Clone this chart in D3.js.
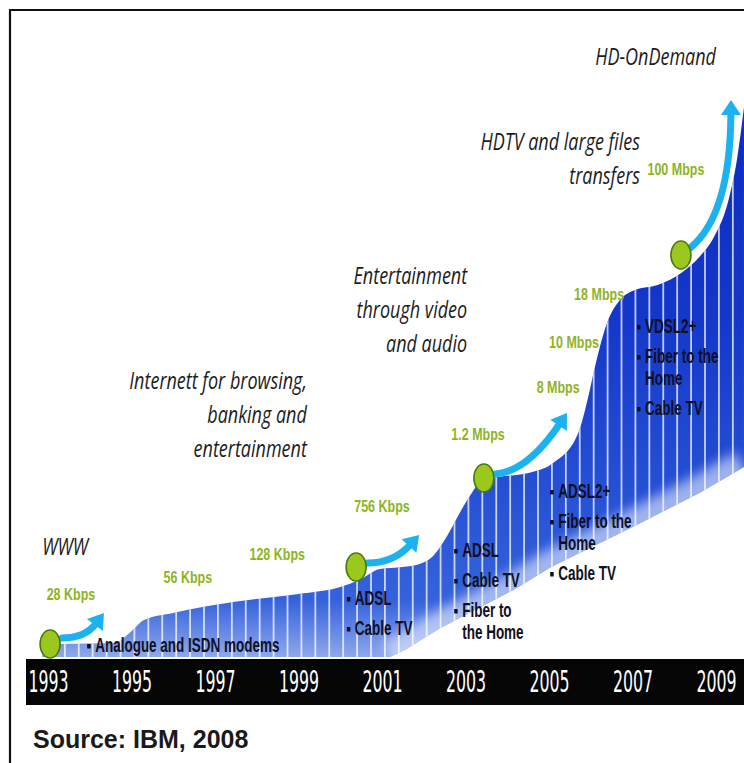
<!DOCTYPE html>
<html>
<head>
<meta charset="utf-8">
<script src="https://cdn.jsdelivr.net/npm/d3@7"></script>
<style>
  html, body { margin: 0; padding: 0; background: #fff; }
  svg { display: block; }
</style>
</head>
<body>
<svg id="chart" width="744" height="763"></svg>
<script>
// Evolution of broadband access speeds, 1993–2009

const tickYears = [1993, 1995, 1997, 1999, 2001, 2003, 2005, 2007, 2009];

// Upper edge of the bandwidth band (year, relative level)
const edgeYears  = [1992.86, 1993.3, 1994.6, 1994.95, 1995.3, 1996.0, 1996.7, 1997.8, 1999.0, 2000.0,
                    2000.5, 2000.95, 2001.5, 2001.9, 2002.2, 2002.6, 2002.9, 2003.15, 2003.4, 2003.8,
                    2004.6, 2005.1, 2005.7, 2005.95, 2006.1, 2006.39, 2006.7, 2007.06, 2007.6, 2008.2,
                    2008.6, 2008.95, 2009.3, 2009.5, 2009.67];
const edgeLevels = [12, 13, 14, 24, 37, 44, 50, 57, 63, 70,
                    78, 88, 90, 93, 100, 124, 147, 164, 177, 180,
                    185, 194, 224, 262, 290, 334, 357, 367, 372, 385,
                    400, 420, 457, 497, 550];

// Lower edge of the band (rises as older technologies fall away)
const lowerYears  = [1992.86, 2001.2, 2001.55, 2002.4, 2004.15, 2005.05, 2007.0, 2008.6, 2009.67];
const lowerLevels = [0, 0, 7, 29, 67, 90, 130, 164, 190];

// Milestone markers with their arrows
const hopYears  = [1993.05, 2000.38, 2003.44, 2008.16];
const hopLevels = [13, 90, 179, 402];
const arrowFromYears  = [1993.34, 2000.66, 2003.73, 2008.38];
const arrowFromLevels = [19, 94, 183, 409];
const arrowToYears    = [1994.34, 2001.89, 2005.43, 2009.36];
const arrowToLevels   = [44, 122, 244, 557];

// Typical speeds
const speedLabels = ["28 Kbps", "56 Kbps", "128 Kbps", "756 Kbps", "1.2 Mbps", "8 Mbps", "10 Mbps", "18 Mbps", "100 Mbps"];
const speedYears  = [1993.55, 1996.35, 1998.49, 2001.0, 2003.3, 2005.22, 2005.6, 2006.2, 2008.04];
const speedLevels = [57, 74, 97, 145, 217, 264, 309, 357, 482];

// Usage eras
const eraTitles = [
  ["WWW"],
  ["Internett for browsing,", "banking and", "entertainment"],
  ["Entertainment", "through video", "and audio"],
  ["HDTV and large files", "transfers"],
  ["HD-OnDemand"]
];
const eraYears  = [1992.86, 1999.2, 2003.04, 2007.18, 2009.0];
const eraLevels = [102, 268, 373, 507, 592];

// Access technologies
const techItems = [
  [["Analogue and ISDN modems"]],
  [["ADSL"], ["Cable TV"]],
  [["ADSL"], ["Cable TV"], ["Fiber to", "the Home"]],
  [["ADSL2+"], ["Fiber to the", "Home"], ["Cable TV"]],
  [["VDSL2+"], ["Fiber to the", "Home"], ["Cable TV"]]
];
const techYears  = [1994.13, 2000.35, 2002.92, 2005.22, 2007.3];
const techLevels = [5, 52, 100, 159, 324];

const sourceNote = "Source: IBM, 2008";

// ---------------------------------------------------------------------------
const svg = d3.select("#chart");
const x = d3.scaleLinear().domain([1993, 2009]).range([48, 716]);
const y = d3.scaleLinear().domain([0, 600]).range([657, 57]);

const defs = svg.append("defs");

const grad = defs.append("linearGradient")
  .attr("id", "bandFill")
  .attr("gradientUnits", "userSpaceOnUse")
  .attr("x1", 0).attr("x2", 0)
  .attr("y1", y(567)).attr("y2", y(0));
[[0, "#0c2bbf"], [0.4, "#1437ca"], [0.7, "#2550d4"], [0.9, "#3562dc"], [1, "#8ea8ec"]]
  .forEach(([o, c]) => grad.append("stop").attr("offset", o).attr("stop-color", c));

defs.append("filter").attr("id", "soft")
  .attr("x", "-20%").attr("y", "-20%").attr("width", "140%").attr("height", "140%")
  .append("feGaussianBlur").attr("stdDeviation", 6);

// Band outline: smooth upper edge, straight-ish lower edge
const upperPts = edgeYears.map((d, i) => [x(d), y(edgeLevels[i])]);
const lowerPts = lowerYears.map((d, i) => [x(d), y(lowerLevels[i])]);
const upperLine = d3.line().curve(d3.curveMonotoneX);
const lowerLine = d3.line().curve(d3.curveLinear);
const bandPath = upperLine(upperPts) + "L" +
  lowerLine(lowerPts.slice().reverse()).slice(1) + "Z";

defs.append("clipPath").attr("id", "bandClip")
  .append("path").attr("d", bandPath);

// Frame
svg.append("path")
  .attr("d", "M10,763V10H744")
  .attr("fill", "none")
  .attr("stroke", "#111")
  .attr("stroke-width", 2.2);

// Band
svg.append("path")
  .attr("d", bandPath)
  .attr("fill", "url(#bandFill)");

const bandDeco = svg.append("g").attr("clip-path", "url(#bandClip)");

// Lighter fade along the rising lower edge
bandDeco.append("path")
  .attr("d", lowerLine(lowerPts.slice(1)))
  .attr("fill", "none")
  .attr("stroke", "#dfe6fb")
  .attr("stroke-width", 34)
  .attr("opacity", 0.65)
  .attr("filter", "url(#soft)");

// Thin vertical stripes through the band
bandDeco.selectAll("line.stripe")
  .data(d3.range(1993.07, 2009.7, 1 / 3))
  .join("line")
  .attr("class", "stripe")
  .attr("x1", d => x(d)).attr("x2", d => x(d))
  .attr("y1", y(0)).attr("y2", y(600))
  .attr("stroke", "#ffffff")
  .attr("stroke-width", 1.8)
  .attr("opacity", 0.75);

// Time axis on a black bar
svg.append("rect")
  .attr("x", 26).attr("y", 659)
  .attr("width", 744 - 26).attr("height", 46)
  .attr("fill", "#050505");

const axisG = svg.append("g")
  .attr("transform", "translate(0,659)")
  .call(d3.axisBottom(x).tickValues(tickYears).tickSize(0).tickFormat(d3.format("d")));
axisG.select(".domain").remove();
axisG.selectAll("text")
  .attr("y", 22)
  .attr("dy", null)
  .attr("transform", "scale(0.79,1.5)")
  .attr("fill", "#ffffff")
  .attr("font-family", "'DejaVu Sans', sans-serif")
  .attr("font-size", 20);

// Helper: text with a vertical stretch
function stretched(g, px, py, str, o) {
  return g.append("text")
    .attr("transform", `translate(${px},${py}) scale(${o.sx || 1},${o.sy || 1})`)
    .attr("text-anchor", o.anchor || "start")
    .attr("font-family", o.family)
    .attr("font-size", o.size)
    .attr("font-weight", o.weight || "normal")
    .attr("font-style", o.style || "normal")
    .attr("fill", o.fill)
    .text(str);
}

// Arrows
const arrowBend = [[0.55, 0], [0.5, 0], [0.45, 0.05], [0.98, 0.22]];
const arrowG = svg.append("g");
arrowFromYears.forEach((fy, i) => {
  const sx = x(fy), sy = y(arrowFromLevels[i]);
  const ex = x(arrowToYears[i]), ey = y(arrowToLevels[i]);
  const cx = sx + arrowBend[i][0] * (ex - sx);
  const cy = sy + arrowBend[i][1] * (ey - sy);
  let dx = ex - cx, dy = ey - cy;
  const len = Math.hypot(dx, dy); dx /= len; dy /= len;
  const headLen = 15, headHalf = 10;
  const bx = ex - dx * headLen, by = ey - dy * headLen;
  arrowG.append("path")
    .attr("d", `M${sx},${sy}Q${cx},${cy} ${bx + dx * 2},${by + dy * 2}`)
    .attr("fill", "none")
    .attr("stroke", "#1cb2f0")
    .attr("stroke-width", 7)
    .attr("stroke-linecap", "round");
  arrowG.append("path")
    .attr("d", `M${ex},${ey}L${bx - dy * headHalf},${by + dx * headHalf}L${bx + dy * headHalf},${by - dx * headHalf}Z`)
    .attr("fill", "#1cb2f0");
});

// Milestone markers
svg.append("g").selectAll("ellipse")
  .data(hopYears)
  .join("ellipse")
  .attr("cx", d => x(d))
  .attr("cy", (d, i) => y(hopLevels[i]))
  .attr("rx", 10).attr("ry", 14)
  .attr("fill", "#9cc81e")
  .attr("stroke", "#4d7a0c")
  .attr("stroke-width", 1.6);

// Speed labels
const speedG = svg.append("g");
speedLabels.forEach((s, i) => {
  stretched(speedG, x(speedYears[i]), y(speedLevels[i]), s, {
    anchor: "middle", family: "'Liberation Sans', Arial, sans-serif",
    size: 12.5, weight: "bold", fill: "#8db41f", sy: 1.3
  });
});

// Era titles
const eraG = svg.append("g");
eraTitles.forEach((lines, i) => {
  lines.forEach((line, j) => {
    stretched(eraG, x(eraYears[i]), y(eraLevels[i]) + j * 34, line, {
      anchor: i === 0 ? "start" : "end",
      family: "'Open Sans', sans-serif", size: 18, style: "italic",
      fill: "#1c1c1c", sy: 1.35
    });
  });
});

// Technology lists
const techG = svg.append("g");
techItems.forEach((items, i) => {
  const tx = x(techYears[i]);
  let ty = y(techLevels[i]);
  items.forEach(item => {
    techG.append("rect")
      .attr("x", tx - 8).attr("y", ty - 8)
      .attr("width", 3.5).attr("height", 4.5)
      .attr("fill", "#101020");
    item.forEach((line, k) => {
      stretched(techG, tx, ty + k * 22, line, {
        family: "'Liberation Sans', Arial, sans-serif", size: 13.5,
        weight: "bold", fill: "#101020", sy: 1.45
      });
    });
    ty += 30 + (item.length - 1) * 22;
  });
});

// Source note
svg.append("text")
  .attr("x", 33).attr("y", 748)
  .attr("font-family", "'Liberation Sans', Arial, sans-serif")
  .attr("font-size", 25)
  .attr("font-weight", "bold")
  .attr("fill", "#1a1a1a")
  .text(sourceNote);
</script>
</body>
</html>
